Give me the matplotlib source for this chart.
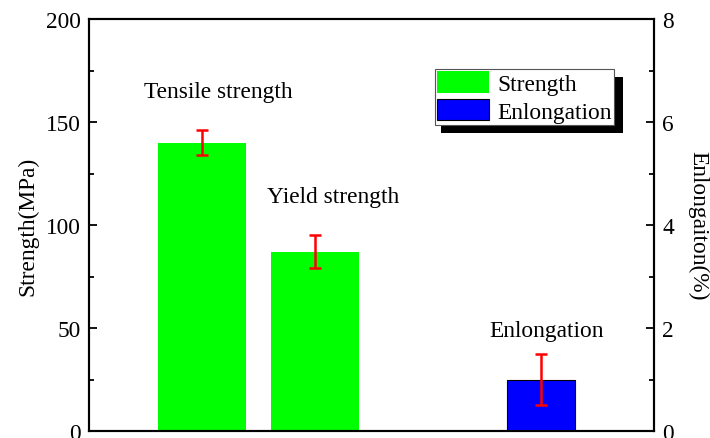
import matplotlib
matplotlib.use("Agg")
import matplotlib.pyplot as plt
from matplotlib.patches import Patch, Rectangle
from matplotlib.ticker import MultipleLocator, NullLocator
from matplotlib.transforms import IdentityTransform

plt.rcParams['font.family'] = ['Liberation Serif', 'DejaVu Serif']
plt.rcParams['font.size'] = 16.8

# Mechanical properties
strength_names = ["Tensile strength", "Yield strength"]
strength_pos = [1, 2]
strength_vals = [140, 87]
strength_err = [6, 8]

elong_name = "Enlongation"
elong_pos = [4]
elong_vals = [1.0]
elong_err = [0.5]

W, H = 710, 439
fig = plt.figure(figsize=(W / 100, H / 100), dpi=100)
ax = fig.add_axes([89 / W, 1 - 432 / H, (654 - 89) / W, (432 - 20) / H])
ax2 = ax.twinx()

err_kw = dict(ecolor="#ff0000", elinewidth=1.8, capsize=4, capthick=1.8)

ax.bar(strength_pos, strength_vals, width=0.78, color="#00ff00",
       yerr=strength_err, error_kw=err_kw, zorder=2)
ax2.bar(elong_pos, elong_vals, width=0.61, color="#0000ff",
        edgecolor="black", linewidth=0.8,
        yerr=elong_err, error_kw=err_kw, zorder=2)

ax.set_xlim(0, 5)
ax.set_ylim(0, 200)
ax2.set_ylim(0, 8)

ax.xaxis.set_major_locator(NullLocator())
ax.yaxis.set_major_locator(MultipleLocator(50))
ax.yaxis.set_minor_locator(MultipleLocator(25))
ax2.yaxis.set_major_locator(MultipleLocator(2))
ax2.yaxis.set_minor_locator(MultipleLocator(1))

for a in (ax, ax2):
    for s in a.spines.values():
        s.set_linewidth(1.5)
    a.tick_params(axis="y", which="major", direction="in", length=6, width=1.3,
                  labelsize=16.8, pad=6)
    a.tick_params(axis="y", which="minor", direction="in", length=3.5, width=1.3)

ax.set_ylabel("Strength(MPa)", fontsize=16.8, labelpad=5)
ax2.set_ylabel("Enlongaiton(%)", fontsize=16.8, rotation=270, labelpad=25)

# Bar annotations
ax.text(1.14, 165, strength_names[0], ha="center", va="center", fontsize=16.8)
ax.text(2.16, 114, strength_names[1], ha="center", va="center", fontsize=16.8)
ax.text(4.05, 49, elong_name, ha="center", va="center", fontsize=16.8)

handles = [Patch(facecolor="#00ff00", edgecolor="none", label="Strength"),
           Patch(facecolor="#0000ff", edgecolor="black", linewidth=0.8, label="Enlongation")]
leg = ax2.legend(handles=handles, loc="upper right",
                 bbox_to_anchor=((614 - 89) / 565, (432 - 70) / 412),
                 borderaxespad=0, borderpad=0.1, labelspacing=0.17,
                 handlelength=2.23, handleheight=1.03, handletextpad=0.34,
                 fancybox=False, framealpha=1, edgecolor="#555555",
                 fontsize=16.8)
leg.get_frame().set_linewidth(0.8)
leg.set_zorder(10)

fig.canvas.draw()
bb = leg.get_window_extent()
shadow = Rectangle((bb.x0 + 6, bb.y0 - 8), bb.width + 3, bb.height,
                   transform=IdentityTransform(), facecolor="black",
                   edgecolor="none", zorder=9)
ax2.add_artist(shadow)

fig.savefig("out.png", dpi=100)
